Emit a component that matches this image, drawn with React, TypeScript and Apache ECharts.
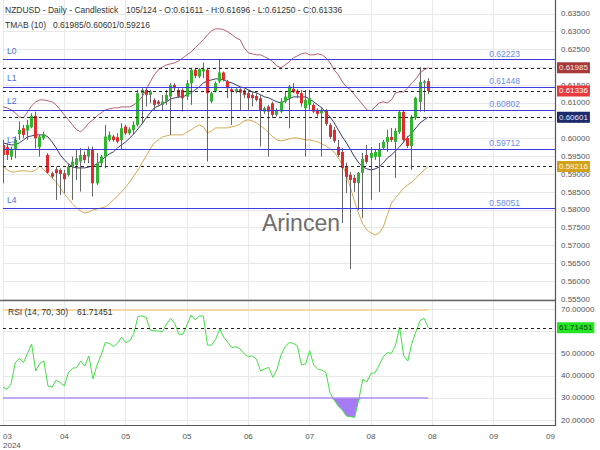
import React, { useEffect, useRef } from 'react';
import * as echarts from 'echarts';

// ---- header / meta ----
const symbolName = 'NZDUSD';
const timeframe = 'Daily';
const chartKind = 'Candlestick';
const barNumber = 105;
const barTotal = 124;
const tmabPeriod = 10;
const rsiParams = [14, 70, 30];

// ---- candles (bars 0..104) ----
const opens = [
  0.59822, 0.59757, 0.59495, 0.59682, 0.60122, 0.60290, 0.60225, 0.60318, 0.60637, 0.59757,
  0.60010, 0.59542, 0.59027, 0.59139, 0.59121, 0.59027, 0.58980, 0.59214, 0.59261, 0.59355,
  0.59542, 0.59495, 0.59682, 0.58747, 0.59308, 0.59495, 0.59963, 0.60057, 0.60038, 0.59963,
  0.60337, 0.60150, 0.60244, 0.60384, 0.61273, 0.61367, 0.61226, 0.61086, 0.61039, 0.60945,
  0.61039, 0.61179, 0.61507, 0.61367, 0.61367, 0.61179, 0.61554, 0.61928, 0.61741, 0.61881,
  0.61928, 0.61039, 0.61320, 0.61601, 0.61853, 0.61601, 0.61385, 0.61320, 0.61385, 0.61348,
  0.61273, 0.61226, 0.61198, 0.61133, 0.60758, 0.60899, 0.60992, 0.60665, 0.60758, 0.61039,
  0.61133, 0.61395, 0.61339, 0.61273, 0.60852, 0.60945, 0.60945, 0.60805, 0.60711, 0.60777,
  0.60384, 0.60244, 0.59767, 0.59626, 0.59233, 0.58981, 0.58897, 0.58756, 0.59037, 0.59542,
  0.59458, 0.59486, 0.59486, 0.59739, 0.59907, 0.60047, 0.59907, 0.60188, 0.60749, 0.60019,
  0.59795, 0.60581, 0.61030, 0.61563, 0.61611,
];
const highs = [
  0.59963, 0.59869, 0.59776, 0.60057, 0.60478, 0.60384, 0.60524, 0.60711, 0.60758, 0.60103,
  0.60197, 0.59588, 0.59074, 0.59214, 0.59167, 0.59121, 0.59308, 0.59495, 0.59682, 0.59729,
  0.59635, 0.59776, 0.59776, 0.59588, 0.59542, 0.60384, 0.60197, 0.60103, 0.60150, 0.60431,
  0.60384, 0.60318, 0.60478, 0.61367, 0.61413, 0.61413, 0.61367, 0.61133, 0.61086, 0.61226,
  0.61367, 0.61554, 0.61554, 0.61413, 0.61413, 0.61647, 0.61975, 0.61975, 0.61975, 0.62134,
  0.61975, 0.61320, 0.61601, 0.62209, 0.61881, 0.61647, 0.61413, 0.61413, 0.61413, 0.61385,
  0.61367, 0.61320, 0.61273, 0.61226, 0.60899, 0.60945, 0.61039, 0.60852, 0.61133, 0.61320,
  0.61507, 0.61554, 0.61385, 0.61367, 0.61367, 0.61367, 0.60992, 0.60852, 0.60852, 0.60833,
  0.60440, 0.60328, 0.59963, 0.59739, 0.59318, 0.59065, 0.58981, 0.59065, 0.59598, 0.59823,
  0.59767, 0.59683, 0.59879, 0.59963, 0.60244, 0.60300, 0.60300, 0.60805, 0.60805, 0.60075,
  0.60665, 0.61170, 0.62012, 0.61647, 0.61696,
];
const lows = [
  0.58747, 0.59401, 0.59401, 0.59448, 0.59963, 0.60010, 0.59963, 0.60290, 0.59729, 0.59495,
  0.59963, 0.59027, 0.58887, 0.58279, 0.58419, 0.58466, 0.58934, 0.58279, 0.58840, 0.58513,
  0.59308, 0.59308, 0.58372, 0.58700, 0.59214, 0.59167, 0.59916, 0.59916, 0.59869, 0.59682,
  0.60103, 0.60103, 0.60103, 0.60337, 0.60431, 0.60899, 0.60992, 0.60805, 0.60899, 0.60805,
  0.60945, 0.60103, 0.61320, 0.61133, 0.60758, 0.61086, 0.60945, 0.61694, 0.61694, 0.61694,
  0.59355, 0.60992, 0.61292, 0.61554, 0.61601, 0.61133, 0.60384, 0.61273, 0.60805, 0.61133,
  0.60805, 0.60899, 0.61039, 0.59776, 0.60693, 0.59495, 0.60571, 0.60618, 0.60711, 0.60992,
  0.60290, 0.61273, 0.61133, 0.60899, 0.59495, 0.60805, 0.60711, 0.60618, 0.59495, 0.60356,
  0.59991, 0.59879, 0.59486, 0.57633, 0.58475, 0.56342, 0.58504, 0.57998, 0.57774, 0.59290,
  0.58279, 0.59402, 0.58504, 0.59683, 0.59626, 0.59907, 0.58897, 0.60132, 0.59879, 0.59739,
  0.59121, 0.60525, 0.60749, 0.60749, 0.61250,
];
const closes = [
  0.59542, 0.59542, 0.59682, 0.59963, 0.60244, 0.60103, 0.60384, 0.60637, 0.60010, 0.60057,
  0.60122, 0.59046, 0.58934, 0.59027, 0.59008, 0.58859, 0.59214, 0.59355, 0.59448, 0.59542,
  0.59401, 0.59682, 0.58747, 0.59308, 0.59495, 0.60057, 0.60103, 0.59963, 0.59916, 0.60290,
  0.60150, 0.60262, 0.60384, 0.61273, 0.61367, 0.61226, 0.61320, 0.60945, 0.60974, 0.61039,
  0.61226, 0.61507, 0.61413, 0.61179, 0.61133, 0.61554, 0.61928, 0.61760, 0.61947, 0.61947,
  0.61273, 0.61273, 0.61554, 0.61853, 0.61647, 0.61413, 0.61320, 0.61385, 0.61292, 0.61226,
  0.61133, 0.61133, 0.61086, 0.60805, 0.60852, 0.60758, 0.60665, 0.60805, 0.61039, 0.61179,
  0.61460, 0.61301, 0.61254, 0.60992, 0.61086, 0.61133, 0.60758, 0.60693, 0.60786, 0.60412,
  0.60047, 0.59935, 0.59542, 0.59177, 0.58925, 0.58840, 0.58756, 0.59037, 0.59430, 0.59346,
  0.59598, 0.59626, 0.59711, 0.59907, 0.60047, 0.59963, 0.60216, 0.60749, 0.59963, 0.59795,
  0.60609, 0.61142, 0.61591, 0.61605, 0.61336,
];

// ---- TMAB bands ----
const upperBand = [
  0.60890, 0.60861, 0.60805, 0.60721, 0.60609, 0.60581, 0.60749, 0.60918, 0.61030, 0.61086,
  0.61086, 0.61058, 0.61030, 0.60946, 0.60805, 0.60665, 0.60525, 0.60384, 0.60244, 0.60188,
  0.60300, 0.60440, 0.60525, 0.60637, 0.60721, 0.60805, 0.60833, 0.60861, 0.60861, 0.60890,
  0.60890, 0.60890, 0.60946, 0.61030, 0.61170, 0.61367, 0.61591, 0.61788, 0.61928, 0.62012,
  0.62068, 0.62097, 0.62125, 0.62181, 0.62265, 0.62349, 0.62433, 0.62546, 0.62658, 0.62770,
  0.62911, 0.63023, 0.63079, 0.63079, 0.63051, 0.62995, 0.62911, 0.62826, 0.62770, 0.62546,
  0.62405, 0.62377, 0.62349, 0.62349, 0.62293, 0.62237, 0.62153, 0.62040, 0.61984, 0.62068,
  0.62153, 0.62265, 0.62321, 0.62377, 0.62405, 0.62349, 0.62349, 0.62377, 0.62349, 0.62265,
  0.62125, 0.61928, 0.61788, 0.61591, 0.61451, 0.61367, 0.61226, 0.61086, 0.60946, 0.60805,
  0.60777, 0.60890, 0.61002, 0.61030, 0.61002, 0.61086, 0.61283, 0.61311, 0.61311, 0.61423,
  0.61563, 0.61676, 0.61844, 0.61928, 0.61985,
];
const middleBand = [
  0.59879, 0.59851, 0.59823, 0.59823, 0.59879, 0.59963, 0.60047, 0.60076, 0.60104, 0.60104,
  0.60104, 0.60047, 0.59907, 0.59739, 0.59542, 0.59402, 0.59290, 0.59205, 0.59177, 0.59177,
  0.59177, 0.59205, 0.59233, 0.59290, 0.59374, 0.59486, 0.59570, 0.59626, 0.59739, 0.59823,
  0.59907, 0.60019, 0.60132, 0.60272, 0.60412, 0.60581, 0.60721, 0.60861, 0.60918, 0.60974,
  0.61030, 0.61114, 0.61142, 0.61170, 0.61170, 0.61226, 0.61283, 0.61367, 0.61451, 0.61563,
  0.61619, 0.61647, 0.61676, 0.61676, 0.61647, 0.61591, 0.61563, 0.61507, 0.61451, 0.61423,
  0.61367, 0.61311, 0.61283, 0.61226, 0.61170, 0.61142, 0.61086, 0.61030, 0.61002, 0.61058,
  0.61114, 0.61170, 0.61170, 0.61170, 0.61170, 0.61114, 0.61030, 0.60946, 0.60861, 0.60721,
  0.60609, 0.60440, 0.60244, 0.60047, 0.59879, 0.59683, 0.59486, 0.59318, 0.59205, 0.59149,
  0.59121, 0.59149, 0.59205, 0.59318, 0.59458, 0.59542, 0.59654, 0.59767, 0.59907, 0.60047,
  0.60160, 0.60300, 0.60440, 0.60525, 0.60601,
];
const lowerBand = [
  0.59233, 0.59121, 0.59065, 0.59065, 0.59093, 0.59093, 0.59093, 0.59065, 0.59121, 0.59233,
  0.59121, 0.59009, 0.58897, 0.58784, 0.58616, 0.58447, 0.58307, 0.58167, 0.58054, 0.57970,
  0.57914, 0.57942, 0.57998, 0.58026, 0.58054, 0.58083, 0.58167, 0.58279, 0.58391, 0.58504,
  0.58644, 0.58784, 0.58953, 0.59121, 0.59318, 0.59514, 0.59711, 0.59879, 0.59963, 0.60047,
  0.60076, 0.60104, 0.60104, 0.60104, 0.60104, 0.60188, 0.60244, 0.60328, 0.60384, 0.60328,
  0.60160, 0.60216, 0.60300, 0.60300, 0.60300, 0.60300, 0.60328, 0.60356, 0.60412, 0.60497,
  0.60525, 0.60497, 0.60440, 0.60356, 0.60272, 0.60160, 0.60047, 0.59963, 0.59935, 0.59963,
  0.59991, 0.60019, 0.60019, 0.59991, 0.59963, 0.59963, 0.59935, 0.59907, 0.59851, 0.59795,
  0.59711, 0.59626, 0.59458, 0.59261, 0.58981, 0.58616, 0.58223, 0.57886, 0.57605, 0.57437,
  0.57353, 0.57297, 0.57353, 0.57521, 0.57858, 0.58195, 0.58335, 0.58476, 0.58616, 0.58700,
  0.58784, 0.58897, 0.59009, 0.59121, 0.59216,
];

// ---- RSI ----
const rsiValues = [
  34.8, 33.9, 36.6, 45.9, 47.9, 45.9, 50.2, 54.4, 42.2, 45.6,
  46.7, 35.4, 34.8, 38.1, 36.9, 35.4, 41.4, 43.4, 43.7, 46.7,
  44.4, 49.0, 38.6, 44.9, 49.4, 55.0, 54.7, 53.2, 54.7, 57.4,
  55.0, 55.9, 59.2, 66.8, 67.1, 66.5, 60.7, 60.3, 60.3, 60.0,
  63.4, 66.0, 63.7, 58.8, 58.8, 63.0, 67.5, 65.3, 67.1, 67.1,
  53.9, 53.9, 56.5, 61.2, 57.4, 55.1, 52.7, 53.2, 52.1, 49.9,
  48.7, 49.0, 47.5, 42.2, 43.1, 43.8, 39.3, 42.9, 49.4, 53.2,
  55.1, 54.7, 53.5, 44.9, 45.3, 51.4, 44.9, 42.9, 42.6, 41.4,
  32.1, 29.1, 26.3, 24.5, 21.8, 21.5, 21.2, 29.1, 38.4, 37.3,
  41.1, 41.4, 44.9, 48.7, 50.5, 50.2, 53.9, 61.9, 49.0, 46.7,
  54.7, 60.0, 65.0, 66.0, 61.71451,
];

// ---- levels ----
const levelNames = ['L0', 'L1', 'L2', 'L3', 'L4'];
const levelValues = [0.62223, 0.61448, 0.60802, 0.59712, 0.58051];

// ---- axes ----
const tickMonths = ['03', '04', '05', '05', '06', '07', '08', '08', '09', '09'];
const tickYear = '2024';
const barsPerTick = 15;
const slotCount = 136;
const priceMin = 0.555;
const priceMax = 0.64;
const priceStep = 0.005;
const rsiMin = 20;
const rsiMax = 70;
const rsiStep = 10;

const FONT = "'Liberation Sans', Arial, sans-serif";

export default function App() {
  const ref = useRef<HTMLDivElement>(null);
  useEffect(() => {
    if (!ref.current) return;
    const chart = echarts.init(ref.current, null, { renderer: 'svg' });
    const cats = Array.from({ length: slotCount }, (_, i) => String(i));
    const last = closes.length - 1;
    const fmt5 = (v: number) => v.toFixed(5);
    const isTick = (i: number) => i % barsPerTick === 0;
    const gridColor = '#e8e8e8';
    const candleData = closes.map((c, i) => [i, opens[i], c, lows[i], highs[i]]);
    const rsiLast = rsiValues[last];
    const [rsiLen, rsiHi, rsiLo] = rsiParams;

    const xAxisFor = (gridIndex: number, labels: boolean, split: boolean) => ({
      type: 'category',
      gridIndex,
      data: cats,
      boundaryGap: false,
      axisLine: { show: false },
      axisTick: { show: false },
      splitLine: { show: split, interval: (i: number) => isTick(i), lineStyle: { color: gridColor, width: 1 } },
      axisLabel: labels
        ? {
            show: true,
            interval: (i: number) => isTick(i),
            formatter: (_v: string, i: number) => {
              const k = Math.round(i / barsPerTick);
              return k === 0 ? tickMonths[0] + '\n' + tickYear : tickMonths[k];
            },
            fontSize: 8,
            lineHeight: 9,
            color: '#555',
            margin: 7,
            alignMinLabel: 'left',
            alignMaxLabel: 'right',
          }
        : { show: false },
    });

    const marker = (v: number, bg: string, fg: string) => ({
      yAxis: v,
      lineStyle: { color: '#222', type: [3, 3], width: 1 },
      label: {
        show: true,
        position: 'end',
        distance: 2,
        formatter: fmt5(v),
        backgroundColor: bg,
        color: fg,
        fontSize: 8,
        fontFamily: FONT,
        padding: [2, 2, 1, 2],
      },
    });

    const levelLine = { color: '#3a3ade', width: 1, type: 'solid' };
    const levelItems = levelValues.flatMap((v, k) => [
      {
        yAxis: v,
        lineStyle: levelLine,
        label: { show: true, position: 'insideStartTop', formatter: levelNames[k], color: '#4a6fdc', fontSize: 8.5, fontFamily: FONT, distance: 4 },
      },
      {
        yAxis: v,
        lineStyle: levelLine,
        label: { show: true, position: 'insideEndTop', formatter: fmt5(v), color: '#6b8be6', fontSize: 8.5, fontFamily: FONT, distance: 1, padding: [0, 34, 0, 0] },
      },
    ]);

    const text = (x: number, y: number, t: string, size: number, fill: string, z = 100) => ({
      type: 'text',
      x,
      y,
      z,
      silent: true,
      style: { text: t, fill, fontSize: size, fontFamily: FONT, verticalAlign: 'middle', textVerticalAlign: 'middle' },
    });

    const gridBase = { left: 3, right: 45, containLabel: false, outerBoundsMode: 'none' };

    const option: any = {
      animation: false,
      backgroundColor: '#ffffff',
      textStyle: { fontFamily: FONT },
      grid: [
        { ...gridBase, top: -4, height: 303 },
        { ...gridBase, top: 300, height: 125 },
        { ...gridBase, top: 309.5, height: 110.5 },
      ],
      xAxis: [xAxisFor(0, false, true), xAxisFor(1, true, true), xAxisFor(2, false, false)],
      yAxis: [
        {
          type: 'value',
          gridIndex: 0,
          position: 'right',
          min: priceMin,
          max: priceMax,
          interval: priceStep,
          axisLine: { show: false },
          axisTick: { show: false },
          splitLine: { show: true, lineStyle: { color: gridColor } },
          axisLabel: { formatter: (v: number) => v.toFixed(5), fontSize: 8, color: '#555', margin: 6 },
        },
        { type: 'value', gridIndex: 1, min: 0, max: 1, show: false, splitLine: { show: false } },
        {
          type: 'value',
          gridIndex: 2,
          position: 'right',
          min: rsiMin,
          max: rsiMax,
          interval: rsiStep,
          axisLine: { show: false },
          axisTick: { show: false },
          splitLine: { show: true, lineStyle: { color: gridColor } },
          axisLabel: {
            formatter: (v: number) => (Math.abs(v - 60) < 1e-6 ? '' : v.toFixed(5)),
            fontSize: 8,
            color: '#555',
            margin: 6,
          },
        },
      ],
      series: [
        {
          name: 'lower',
          type: 'line',
          xAxisIndex: 0,
          yAxisIndex: 0,
          data: lowerBand,
          symbol: 'none',
          lineStyle: { color: '#d6aa55', width: 1 },
          z: 1,
          markLine: { silent: true, precision: 6, symbol: ['none', 'none'], animation: false, data: levelItems },
        },
        {
          name: 'upper',
          type: 'line',
          xAxisIndex: 0,
          yAxisIndex: 0,
          data: upperBand,
          symbol: 'none',
          lineStyle: { color: '#b5606f', width: 1 },
          z: 1,
        },
        {
          name: 'middle',
          type: 'line',
          xAxisIndex: 0,
          yAxisIndex: 0,
          data: middleBand,
          symbol: 'none',
          lineStyle: { color: '#3a3a6e', width: 1 },
          z: 1,
        },
        {
          name: 'candles',
          type: 'custom',
          xAxisIndex: 0,
          yAxisIndex: 0,
          data: candleData,
          encode: { x: 0, y: [1, 2, 3, 4] },
          z: 3,
          clip: true,
          renderItem: (_p: any, api: any) => {
            const i = api.value(0);
            const o = api.value(1);
            const c = api.value(2);
            const l = api.value(3);
            const h = api.value(4);
            const pO = api.coord([i, o]);
            const pC = api.coord([i, c]);
            const pH = api.coord([i, h]);
            const pL = api.coord([i, l]);
            const w = 3;
            const xr = Math.round(pO[0] - w / 2);
            const top = Math.min(pO[1], pC[1]);
            const hgt = Math.max(1, Math.abs(pO[1] - pC[1]));
            return {
              type: 'group',
              children: [
                { type: 'line', shape: { x1: xr + 1.5, y1: pH[1], x2: xr + 1.5, y2: pL[1] }, style: { stroke: '#666', lineWidth: 1 } },
                { type: 'rect', shape: { x: xr, y: top, width: w, height: hgt }, style: { fill: c >= o ? '#31b531' : '#e02c2c' } },
              ],
            };
          },
        },
        {
          name: 'markers',
          type: 'line',
          xAxisIndex: 0,
          yAxisIndex: 0,
          data: [],
          z: 5,
          markLine: {
            silent: true,
            precision: 6,
            symbol: ['none', 'none'],
            animation: false,
            data: [
              marker(upperBand[last], '#a83a3a', '#fbe4e4'),
              marker(closes[last], '#e6393d', '#ffffff'),
              marker(middleBand[last], '#1d2a6b', '#e6e8ff'),
              marker(lowerBand[last], '#d4a11c', '#fff8e0'),
            ],
          },
        },
        {
          name: 'rsiBase',
          type: 'line',
          xAxisIndex: 2,
          yAxisIndex: 2,
          stack: 'os',
          data: rsiValues.map((v) => Math.min(v, rsiLo)),
          symbol: 'none',
          lineStyle: { opacity: 0 },
          silent: true,
        },
        {
          name: 'rsiFill',
          type: 'line',
          xAxisIndex: 2,
          yAxisIndex: 2,
          stack: 'os',
          data: rsiValues.map((v) => rsiLo - Math.min(v, rsiLo)),
          symbol: 'none',
          lineStyle: { opacity: 0 },
          areaStyle: { color: '#a57cf5', opacity: 1 },
          silent: true,
        },
        {
          name: 'rsi',
          type: 'line',
          xAxisIndex: 2,
          yAxisIndex: 2,
          data: rsiValues,
          symbol: 'none',
          lineStyle: { color: '#42e042', width: 1 },
          z: 4,
          markLine: {
            silent: true,
            precision: 6,
            symbol: ['none', 'none'],
            animation: false,
            data: [
              [
                { coord: [0, rsiHi], lineStyle: { color: '#f3d9a4', width: 2, type: 'solid' }, label: { show: false } },
                { coord: [last, rsiHi] },
              ],
              [
                { coord: [0, rsiLo], lineStyle: { color: '#b48ff2', width: 1.5, type: 'solid' }, label: { show: false } },
                { coord: [last, rsiLo] },
              ],
              {
                yAxis: rsiLast,
                lineStyle: { color: '#222', type: [3, 3], width: 1 },
                label: {
                  show: true,
                  position: 'end',
                  distance: 2,
                  formatter: fmt5(rsiLast),
                  backgroundColor: '#25e425',
                  color: '#0b3a0b',
                  fontSize: 8,
                  fontFamily: FONT,
                  padding: [2, 2, 1, 2],
                },
              },
            ],
          },
        },
      ],
      graphic: [
        { type: 'line', z: 50, silent: true, shape: { x1: 0, y1: 300.5, x2: 555.5, y2: 300.5 }, style: { stroke: '#666', lineWidth: 1.5 } },
        { type: 'line', z: 50, silent: true, shape: { x1: 0, y1: 425.5, x2: 555.5, y2: 425.5 }, style: { stroke: '#555', lineWidth: 1.2 } },
        { type: 'line', z: 50, silent: true, shape: { x1: 555.5, y1: 0, x2: 555.5, y2: 426 }, style: { stroke: '#555', lineWidth: 1.2 } },
        text(262, 223, 'Arincen', 23, '#6e6e6e', 1),
        text(5, 10, `${symbolName} - ${timeframe} - ${chartKind}`, 8.5, '#333'),
        text(
          126,
          10,
          `${barNumber}/${barTotal} - O:${fmt5(opens[last])} - H:${fmt5(highs[last])} - L:${fmt5(lows[last])} - C:${fmt5(closes[last])}`,
          8.5,
          '#333'
        ),
        text(5, 25, `TMAB (${tmabPeriod})`, 8.5, '#333'),
        text(53, 25, `${fmt5(upperBand[last])}/${fmt5(middleBand[last])}/${fmt5(lowerBand[last])}`, 8.5, '#333'),
        text(8, 311.5, `RSI (${rsiLen}, ${rsiHi}, ${rsiLo})`, 8.5, '#333'),
        text(77, 311.5, fmt5(rsiLast), 8.5, '#333'),
      ],
    };

    chart.setOption(option);
    return () => chart.dispose();
  }, []);

  return <div ref={ref} style={{ position: 'fixed', left: 0, top: 0, width: 600, height: 450, background: '#fff' }} />;
}
